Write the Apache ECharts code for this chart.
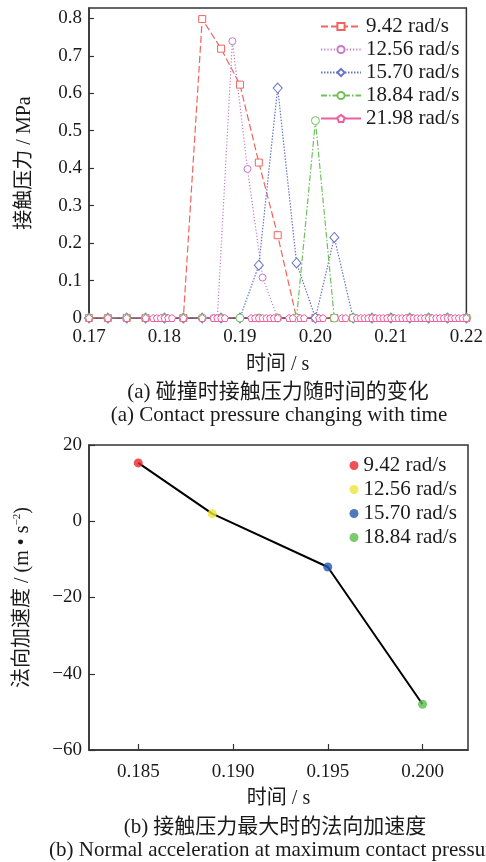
<!DOCTYPE html>
<html>
<head>
<meta charset="utf-8">
<script src="https://cdn.jsdelivr.net/npm/echarts@6/dist/echarts.min.js"></script>
<style>
html,body{margin:0;padding:0;background:#fff;}
#c{width:486px;height:862px;}
</style>
</head>
<body>
<div id="c"></div>
<script>
// ---- Chart (a): contact pressure vs time ----
const speedNames = ['9.42 rad/s', '12.56 rad/s', '15.70 rad/s', '18.84 rad/s', '21.98 rad/s'];
const tGrid = [0.17,0.1725,0.175,0.1775,0.18,0.1825,0.185,0.1875,0.19,0.1925,0.195,0.1975,0.2,0.2025,0.205,0.2075,0.21,0.2125,0.215,0.2175,0.22];
const pRed   = [0,0,0,0,0,0,0.798,0.719,0.623,0.415,0.221,0,0,0,0,0,0,0,0,0,0];
const tMag   = [0.17,0.1725,0.175,0.1775,0.18,0.1825,0.185,0.1865,0.187,0.189,0.191,0.193,0.195,0.1975,0.2,0.2025,0.205,0.2075,0.21,0.2125,0.215,0.2175,0.22];
const pMag   = [0,0,0,0,0,0,0,0,0,0.739,0.398,0.108,0,0,0,0,0,0,0,0,0,0,0];
const pBlue  = [0,0,0,0,0,0,0,0,0,0.141,0.614,0.147,0,0.215,0,0,0,0,0,0,0];
const pGreen = [0,0,0,0,0,0,0,0,0,0,0,0,0.527,0,0,0,0,0,0,0,0];
const tPink  = [0.17,0.1725,0.175,0.1775,0.1785,0.179,0.1795,0.18,0.1805,0.181,0.1825,0.185,0.1865,0.187,0.1875,0.188,
                0.1915,0.192,0.1925,0.193,0.1935,0.194,0.1945,0.195,0.1965,0.197,0.198,0.1985,0.2005,0.201,0.2035,0.204,
                0.2055,0.206,0.2065,0.207,0.2075,0.208,0.2085,0.209,0.2095,0.21,0.2105,0.211,0.2115,0.212,0.2125,0.213,
                0.2135,0.214,0.2145,0.215,0.2155,0.216,0.2165,0.217,0.2175,0.218,0.2185,0.219,0.2195,0.22];
const pPink  = tPink.map(() => 0);
const yTicksA = [0, 0.1, 0.2, 0.3, 0.4, 0.5, 0.6, 0.7, 0.8];

// ---- Chart (b): normal acceleration at max contact pressure ----
const accNames = ['9.42 rad/s', '12.56 rad/s', '15.70 rad/s', '18.84 rad/s'];
const accTime  = [0.185, 0.1889, 0.195, 0.200];
const accValue = [15.3, 2.0, -12.0, -48.0];
const xTicksB = [0.185, 0.190, 0.195, 0.200];

const colorsA = ['#f06460', '#c878c8', '#6a74c8', '#70c05a', '#ee5ea0'];
const colorsB = ['#e8262a', '#eee534', '#2457ab', '#5cbc48'];

const SERIF = '"Liberation Serif", "Noto Sans CJK SC"';
const TXT = '#1a1a1a';
const AX = '#333';
const pentagon = 'path://M0,-1L0.951,-0.309L0.588,0.809L-0.588,0.809L-0.951,-0.309Z';

function pairs(ts, vs){ return ts.map((t, i) => [t, vs[i]]); }
function mkLine(i, ts, vs, symbol, size, dash){
  return {
    name: speedNames[i], type: 'line', xAxisIndex: 0, yAxisIndex: 0,
    data: pairs(ts, vs), symbol: symbol, symbolSize: size,
    itemStyle: {color: '#fff', borderColor: colorsA[i], borderWidth: 1},
    lineStyle: {color: colorsA[i], width: 1.2, type: dash},
    emphasis: {disabled: true}
  };
}
const minus = s => String(s).replace('-', '\u2212');

const chart = echarts.init(document.getElementById('c'), null, {renderer: 'canvas'});
chart.setOption({
  animation: false,
  backgroundColor: '#fff',
  textStyle: {fontFamily: SERIF, color: TXT},
  grid: [
    {left: 89, top: 8, width: 379, height: 310, show: true, borderColor: AX, borderWidth: 1.5, backgroundColor: 'transparent'},
    {left: 89, top: 445, width: 379, height: 305, show: true, borderColor: AX, borderWidth: 1.5, backgroundColor: 'transparent'}
  ],
  xAxis: [
    {
      type: 'value', gridIndex: 0, min: 0.17, max: 0.22, interval: 0.01,
      name: '时间 / s', nameLocation: 'middle', nameGap: 37,
      nameTextStyle: {fontFamily: SERIF, fontSize: 20, color: TXT},
      axisLine: {onZero: false, lineStyle: {color: AX, width: 1.5}},
      axisTick: {inside: true, length: 5, lineStyle: {color: AX, width: 1.2}},
      minorTick: {show: true, splitNumber: 2, length: 2.5, lineStyle: {color: AX, width: 1}},
      axisLabel: {margin: 10, fontFamily: SERIF, fontSize: 19, color: TXT, formatter: v => v.toFixed(2), showMinLabel: true, showMaxLabel: true},
      splitLine: {show: false}
    },
    {
      type: 'value', gridIndex: 1, min: 0.1824, max: 0.2024,
      name: '时间 / s', nameLocation: 'middle', nameGap: 39,
      nameTextStyle: {fontFamily: SERIF, fontSize: 20, color: TXT},
      axisLine: {onZero: false, lineStyle: {color: AX, width: 1.5}},
      axisTick: {inside: true, length: 6, customValues: xTicksB, lineStyle: {color: AX, width: 1.2}},
      axisLabel: {margin: 13, fontFamily: SERIF, fontSize: 19, color: TXT, customValues: xTicksB, formatter: v => v.toFixed(3)},
      splitLine: {show: false}
    }
  ],
  yAxis: [
    {
      type: 'value', gridIndex: 0, min: 0, max: 0.8276,
      name: '接触压力 / MPa', nameLocation: 'middle', nameGap: 54,
      nameTextStyle: {fontFamily: SERIF, fontSize: 20, color: TXT},
      axisLine: {show: true, onZero: false, lineStyle: {color: AX, width: 1.5}},
      axisTick: {show: true, inside: true, length: 5, customValues: yTicksA, lineStyle: {color: AX, width: 1.2}},
      axisLabel: {margin: 7, fontFamily: SERIF, fontSize: 19, color: TXT, customValues: yTicksA, formatter: v => v === 0 ? '0' : v.toFixed(1)},
      splitLine: {show: false}
    },
    {
      type: 'value', gridIndex: 1, min: -60, max: 20, interval: 20,
      name: '法向加速度 / (m • s{sup|\u22122})', nameLocation: 'middle', nameGap: 55,
      nameTextStyle: {fontFamily: SERIF, fontSize: 20, color: TXT, lineHeight: 22,
        rich: {sup: {fontFamily: SERIF, fontSize: 11, color: TXT, verticalAlign: 'top', lineHeight: 22}}},
      axisLine: {show: true, onZero: false, lineStyle: {color: AX, width: 1.5}},
      axisTick: {show: true, inside: true, length: 6, lineStyle: {color: AX, width: 1.2}},
      axisLabel: {margin: 7, fontFamily: SERIF, fontSize: 19, color: TXT, formatter: v => minus(v)},
      splitLine: {show: false}
    }
  ],
  legend: [
    {
      data: speedNames, orient: 'vertical', left: 320, top: 16, padding: 0,
      itemWidth: 40, itemHeight: 9, itemGap: 2,
      textStyle: {fontFamily: SERIF, fontSize: 21, color: TXT, lineHeight: 20},
      selectedMode: false
    },
    {
      data: accNames.map(n => ({name: n + ' ', icon: 'circle'})), orient: 'vertical', left: 349.5, top: 455, padding: 0,
      itemWidth: 9, itemHeight: 9, itemGap: 3,
      textStyle: {fontFamily: SERIF, fontSize: 21, color: TXT, lineHeight: 20},
      selectedMode: false
    }
  ],
  series: [
    mkLine(0, tGrid, pRed, 'rect', 7, [7, 3]),
    mkLine(1, tMag, pMag, 'circle', 7, [1.2, 2]),
    mkLine(2, tGrid, pBlue, 'diamond', [9, 10], [1.5, 1.5]),
    mkLine(3, tGrid, pGreen, 'circle', 8, [6, 2, 1.5, 2]),
    mkLine(4, tPink, pPink, pentagon, 7, 'solid'),
    {
      type: 'line', xAxisIndex: 1, yAxisIndex: 1, data: pairs(accTime, accValue),
      showSymbol: false, symbol: 'none', lineStyle: {color: '#000', width: 2}, emphasis: {disabled: true}, z: 2
    }
  ].concat(accNames.map((n, i) => ({
    name: n + ' ', type: 'scatter', xAxisIndex: 1, yAxisIndex: 1,
    data: [[accTime[i], accValue[i]]], symbol: 'circle', symbolSize: 9,
    itemStyle: {color: colorsB[i]}, emphasis: {disabled: true}, z: 3
  }))),
  graphic: [
    {type: 'text', x: 278, y: 392, style: {text: '(a) 碰撞时接触压力随时间的变化', font: '21px ' + SERIF, fill: TXT, align: 'center', verticalAlign: 'middle'}},
    {type: 'text', x: 279, y: 415, style: {text: '(a) Contact pressure changing with time', font: '21px ' + SERIF, fill: TXT, align: 'center', verticalAlign: 'middle'}},
    {type: 'text', x: 275, y: 827, style: {text: '(b) 接触压力最大时的法向加速度', font: '21px ' + SERIF, fill: TXT, align: 'center', verticalAlign: 'middle'}},
    {type: 'text', x: 49, y: 850, style: {text: '(b) Normal acceleration at maximum contact pressure', font: '21px ' + SERIF, fill: TXT, align: 'left', verticalAlign: 'middle'}}
  ]
});
</script>
</body>
</html>
